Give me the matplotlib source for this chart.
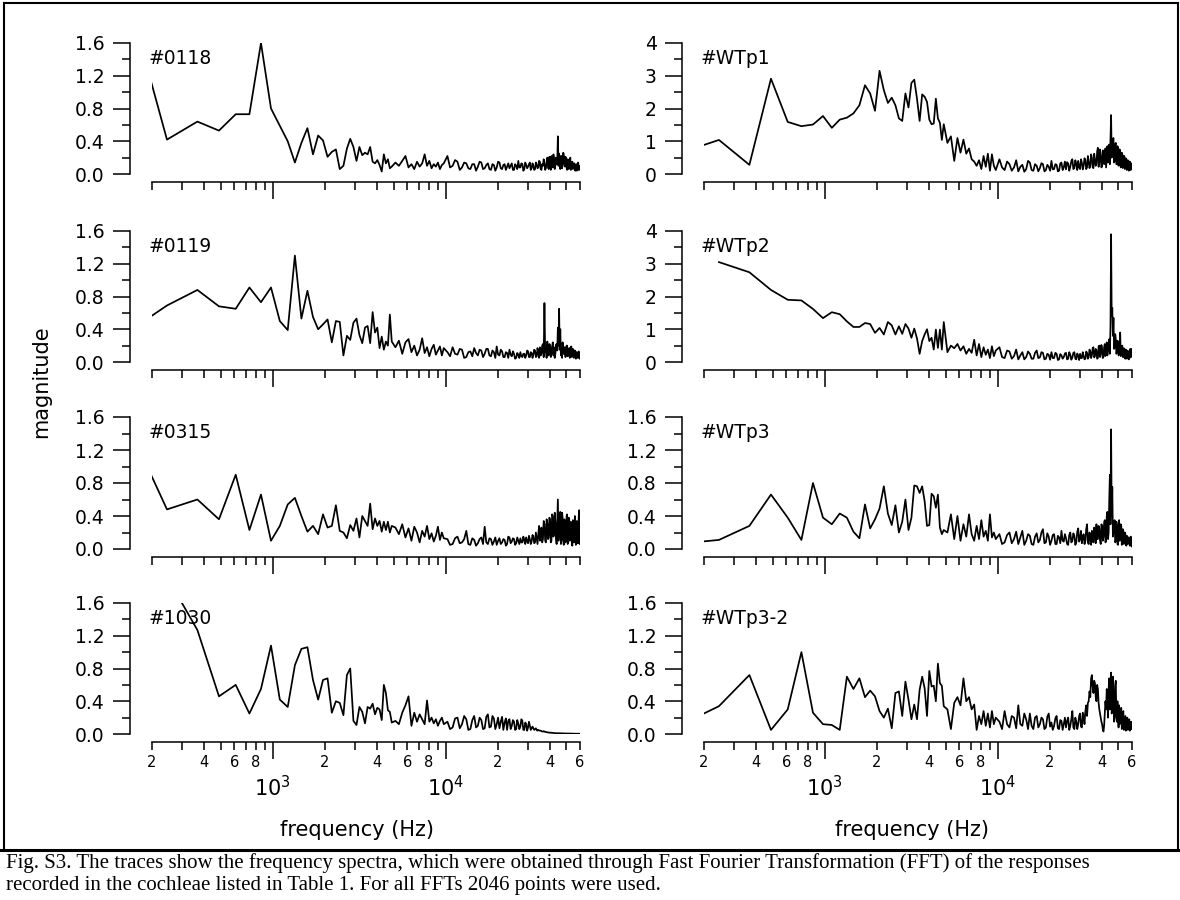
import numpy as np
import matplotlib
matplotlib.use("Agg")
import matplotlib.pyplot as plt
from matplotlib.lines import Line2D
from matplotlib.ticker import FixedLocator, FixedFormatter

plt.rcParams['font.family'] = ['DejaVu Sans']

# FFT bin spacing and the bins
BIN_HZ = 122.07
bins_low = list(range(1, 41))
bins_mid = list(range(42, 81, 2))
bins_high = list(range(84, 493, 3))
bins = np.array(bins_low + bins_mid + bins_high)
freq = bins * BIN_HZ

# magnitudes: 40 low bins, 20 mid bins, 137 high bins
s0118 = [2.74, 0.42, 0.64, 0.53, 0.73, 0.73, 1.60, 0.80, 0.59, 0.40,
         0.14, 0.38, 0.56, 0.24, 0.47, 0.41, 0.21, 0.27, 0.30, 0.06,
         0.10, 0.31, 0.43, 0.33, 0.16, 0.33, 0.23, 0.26, 0.24, 0.33,
         0.15, 0.13, 0.17, 0.11, 0.03, 0.24, 0.13, 0.18, 0.07, 0.09,
         0.14, 0.10, 0.16, 0.22, 0.08, 0.12, 0.06, 0.15, 0.09, 0.13,
         0.24, 0.10, 0.16, 0.07, 0.12, 0.09, 0.14, 0.06, 0.11, 0.13,
         0.22, 0.08, 0.10, 0.17, 0.15, 0.05, 0.08, 0.14, 0.13, 0.07,
         0.06, 0.12, 0.12, 0.04, 0.09, 0.15, 0.14, 0.06, 0.07, 0.11,
         0.13, 0.06, 0.05, 0.12, 0.11, 0.04, 0.08, 0.15, 0.14, 0.07,
         0.06, 0.11, 0.12, 0.05, 0.09, 0.13, 0.07, 0.10, 0.13, 0.05,
         0.05, 0.12, 0.10, 0.06, 0.16, 0.08, 0.08, 0.13, 0.12, 0.04,
         0.06, 0.14, 0.11, 0.07, 0.09, 0.12, 0.14, 0.05, 0.07, 0.13,
         0.10, 0.05, 0.06, 0.14, 0.12, 0.07, 0.08, 0.16, 0.15, 0.06,
         0.05, 0.12, 0.10, 0.18, 0.13, 0.05, 0.07, 0.15, 0.20, 0.08,
         0.06, 0.21, 0.14, 0.05, 0.22, 0.12, 0.08, 0.24, 0.18, 0.06,
         0.10, 0.20, 0.12, 0.15, 0.46, 0.10, 0.25, 0.14, 0.06, 0.22,
         0.22, 0.07, 0.15, 0.26, 0.24, 0.10, 0.09, 0.21, 0.19, 0.08,
         0.05, 0.18, 0.17, 0.06, 0.12, 0.16, 0.20, 0.05, 0.07, 0.14,
         0.15, 0.06, 0.10, 0.13, 0.13, 0.05, 0.04, 0.11, 0.12, 0.04,
         0.08, 0.12, 0.14, 0.05, 0.05, 0.10, 0.06]

s0119 = [0.26, 0.69, 0.88, 0.68, 0.65, 0.91, 0.73, 0.91, 0.50, 0.39,
         1.30, 0.53, 0.87, 0.55, 0.40, 0.46, 0.52, 0.24, 0.50, 0.49,
         0.08, 0.32, 0.27, 0.48, 0.53, 0.33, 0.23, 0.42, 0.44, 0.23,
         0.61, 0.36, 0.42, 0.17, 0.31, 0.15, 0.25, 0.20, 0.58, 0.25,
         0.18, 0.26, 0.10, 0.24, 0.28, 0.12, 0.20, 0.08, 0.15, 0.29,
         0.11, 0.18, 0.07, 0.16, 0.21, 0.09, 0.14, 0.19, 0.08, 0.17,
         0.12, 0.07, 0.18, 0.10, 0.09, 0.16, 0.15, 0.05, 0.06, 0.12,
         0.13, 0.07, 0.17, 0.11, 0.08, 0.15, 0.14, 0.06, 0.10, 0.16,
         0.16, 0.08, 0.07, 0.14, 0.12, 0.05, 0.19, 0.09, 0.08, 0.15,
         0.13, 0.06, 0.06, 0.12, 0.11, 0.05, 0.15, 0.09, 0.07, 0.13,
         0.10, 0.04, 0.05, 0.11, 0.09, 0.05, 0.12, 0.07, 0.06, 0.10,
         0.10, 0.05, 0.08, 0.14, 0.13, 0.06, 0.06, 0.12, 0.11, 0.05,
         0.09, 0.15, 0.14, 0.06, 0.07, 0.17, 0.12, 0.05, 0.18, 0.08,
         0.10, 0.20, 0.22, 0.06, 0.72, 0.12, 0.15, 0.05, 0.25, 0.10,
         0.08, 0.22, 0.20, 0.06, 0.12, 0.19, 0.24, 0.08, 0.18, 0.05,
         0.10, 0.21, 0.22, 0.14, 0.42, 0.20, 0.65, 0.15, 0.40, 0.08,
         0.15, 0.05, 0.24, 0.10, 0.10, 0.18, 0.18, 0.06, 0.13, 0.20,
         0.20, 0.07, 0.08, 0.16, 0.17, 0.05, 0.12, 0.18, 0.19, 0.06,
         0.07, 0.16, 0.15, 0.05, 0.10, 0.14, 0.13, 0.04, 0.06, 0.12,
         0.11, 0.05, 0.09, 0.13, 0.07, 0.04, 0.10]

s0315 = [1.85, 0.48, 0.60, 0.36, 0.90, 0.23, 0.66, 0.10, 0.28, 0.54,
         0.62, 0.40, 0.21, 0.28, 0.18, 0.42, 0.26, 0.28, 0.53, 0.22,
         0.20, 0.13, 0.29, 0.22, 0.37, 0.14, 0.40, 0.34, 0.28, 0.55,
         0.24, 0.37, 0.28, 0.34, 0.21, 0.33, 0.23, 0.33, 0.20, 0.28,
         0.26, 0.18, 0.30, 0.14, 0.25, 0.10, 0.27, 0.20, 0.08, 0.22,
         0.15, 0.28, 0.12, 0.19, 0.09, 0.16, 0.27, 0.11, 0.20, 0.13,
         0.12, 0.05, 0.06, 0.13, 0.15, 0.07, 0.08, 0.12, 0.22, 0.06,
         0.05, 0.13, 0.11, 0.04, 0.07, 0.12, 0.14, 0.06, 0.27, 0.08,
         0.06, 0.13, 0.12, 0.05, 0.09, 0.14, 0.05, 0.10, 0.13, 0.06,
         0.08, 0.12, 0.11, 0.04, 0.06, 0.15, 0.14, 0.07, 0.09, 0.13,
         0.12, 0.05, 0.07, 0.14, 0.10, 0.06, 0.13, 0.08, 0.08, 0.15,
         0.11, 0.06, 0.14, 0.09, 0.07, 0.16, 0.12, 0.06, 0.09, 0.17,
         0.15, 0.07, 0.08, 0.20, 0.13, 0.06, 0.18, 0.28, 0.10, 0.22,
         0.26, 0.08, 0.12, 0.34, 0.30, 0.10, 0.08, 0.36, 0.32, 0.12,
         0.14, 0.38, 0.35, 0.08, 0.10, 0.42, 0.40, 0.15, 0.18, 0.44,
         0.33, 0.12, 0.06, 0.35, 0.60, 0.10, 0.22, 0.40, 0.45, 0.06,
         0.10, 0.44, 0.38, 0.12, 0.05, 0.36, 0.30, 0.08, 0.15, 0.40,
         0.42, 0.06, 0.08, 0.38, 0.35, 0.10, 0.12, 0.33, 0.28, 0.05,
         0.04, 0.35, 0.32, 0.08, 0.14, 0.40, 0.25, 0.05, 0.06, 0.34,
         0.30, 0.07, 0.10, 0.38, 0.47, 0.06, 0.20]

s1030 = [2.30, 1.92, 1.27, 0.46, 0.60, 0.25, 0.55, 1.08, 0.42, 0.33,
         0.84, 1.04, 1.06, 0.66, 0.42, 0.66, 0.68, 0.26, 0.40, 0.38,
         0.23, 0.72, 0.80, 0.16, 0.11, 0.33, 0.27, 0.13, 0.33, 0.31,
         0.37, 0.24, 0.32, 0.30, 0.17, 0.60, 0.50, 0.29, 0.27, 0.14,
         0.16, 0.12, 0.26, 0.35, 0.46, 0.10, 0.26, 0.15, 0.24, 0.18,
         0.12, 0.41, 0.15, 0.20, 0.13, 0.18, 0.10, 0.16, 0.20, 0.12,
         0.15, 0.06, 0.08, 0.19, 0.20, 0.07, 0.12, 0.22, 0.18, 0.05,
         0.06, 0.17, 0.22, 0.08, 0.10, 0.20, 0.17, 0.06, 0.07, 0.21,
         0.24, 0.08, 0.09, 0.22, 0.19, 0.06, 0.12, 0.20, 0.07, 0.15,
         0.21, 0.05, 0.14, 0.19, 0.05, 0.16, 0.18, 0.06, 0.10, 0.17,
         0.15, 0.05, 0.06, 0.17, 0.13, 0.06, 0.09, 0.18, 0.16, 0.05,
         0.05, 0.14, 0.12, 0.04, 0.08, 0.15, 0.10, 0.05, 0.07, 0.09,
         0.07, 0.05, 0.06, 0.07, 0.05, 0.04, 0.05, 0.045, 0.04, 0.04,
         0.035, 0.03, 0.03, 0.035, 0.03, 0.025, 0.025, 0.022, 0.02, 0.02,
         0.018, 0.017, 0.015, 0.016, 0.015, 0.013, 0.012, 0.012, 0.012, 0.011,
         0.010, 0.010, 0.010, 0.010, 0.010, 0.009, 0.009, 0.009, 0.008, 0.008,
         0.008, 0.008, 0.008, 0.007, 0.007, 0.007, 0.007, 0.006, 0.006, 0.006,
         0.006, 0.006, 0.006, 0.005, 0.005, 0.005, 0.005, 0.005, 0.005, 0.005,
         0.005, 0.004, 0.004, 0.004, 0.004, 0.004, 0.004, 0.004, 0.004, 0.004,
         0.004, 0.003, 0.003, 0.003, 0.003, 0.003, 0.003]

sWTp1 = [0.51, 1.04, 0.28, 2.91, 1.59, 1.46, 1.51, 1.77, 1.41, 1.66,
         1.72, 1.85, 2.10, 2.71, 2.46, 1.93, 3.15, 2.56, 2.17, 2.33,
         2.10, 1.70, 1.62, 2.46, 2.03, 2.78, 2.88, 2.30, 1.62, 2.43,
         2.36, 2.20, 1.66, 1.52, 1.54, 2.30, 1.70, 1.56, 1.04, 1.52,
         0.95, 1.15, 0.40, 1.10, 0.65, 1.05, 0.62, 0.78, 0.45, 0.38,
         0.25, 0.42, 0.15, 0.55, 0.22, 0.62, 0.10, 0.60, 0.25, 0.12,
         0.45, 0.20, 0.12, 0.38, 0.30, 0.10, 0.20, 0.42, 0.08, 0.22,
         0.28, 0.07, 0.15, 0.40, 0.35, 0.12, 0.10, 0.30, 0.25, 0.08,
         0.18, 0.33, 0.30, 0.08, 0.12, 0.28, 0.22, 0.10, 0.40, 0.14,
         0.15, 0.30, 0.28, 0.08, 0.10, 0.32, 0.35, 0.12, 0.20, 0.38,
         0.14, 0.36, 0.32, 0.10, 0.22, 0.40, 0.45, 0.15, 0.18, 0.42,
         0.30, 0.12, 0.40, 0.20, 0.15, 0.45, 0.35, 0.14, 0.25, 0.48,
         0.42, 0.15, 0.20, 0.55, 0.38, 0.18, 0.28, 0.60, 0.50, 0.20,
         0.18, 0.62, 0.45, 0.25, 0.30, 0.70, 0.80, 0.22, 0.35, 0.75,
         0.55, 0.20, 0.25, 0.72, 0.70, 0.30, 0.40, 0.78, 0.20, 0.55,
         0.85, 0.35, 0.45, 0.90, 0.30, 1.10, 1.80, 0.50, 0.60, 1.05,
         1.10, 0.35, 0.40, 0.90, 0.95, 0.30, 0.30, 0.85, 0.80, 0.25,
         0.50, 0.75, 0.70, 0.20, 0.25, 0.65, 0.60, 0.18, 0.40, 0.55,
         0.55, 0.15, 0.20, 0.48, 0.45, 0.12, 0.30, 0.42, 0.40, 0.10,
         0.15, 0.38, 0.35, 0.12, 0.25, 0.32, 0.30]

sWTp2 = [np.nan, 3.05, 2.74, 2.20, 1.90, 1.88, 1.62, 1.34, 1.52, 1.46,
         1.24, 1.07, 1.07, 1.19, 1.16, 0.89, 1.04, 0.84, 1.22, 1.12,
         0.84, 1.09, 0.86, 1.16, 1.02, 0.74, 1.02, 0.72, 0.25, 0.64,
         0.84, 1.00, 0.64, 0.74, 0.38, 0.99, 0.43, 0.99, 0.38, 1.22,
         0.30, 0.50, 0.42, 0.55, 0.35, 0.48, 0.25, 0.40, 0.28, 0.68,
         0.20, 0.55, 0.15, 0.45, 0.22, 0.38, 0.12, 0.48, 0.18, 0.35,
         0.45, 0.15, 0.12, 0.35, 0.32, 0.10, 0.18, 0.38, 0.08, 0.20,
         0.30, 0.08, 0.15, 0.32, 0.25, 0.10, 0.10, 0.28, 0.35, 0.12,
         0.14, 0.30, 0.28, 0.08, 0.10, 0.25, 0.22, 0.07, 0.30, 0.12,
         0.12, 0.28, 0.25, 0.06, 0.08, 0.24, 0.20, 0.10, 0.15, 0.26,
         0.28, 0.08, 0.10, 0.30, 0.22, 0.07, 0.14, 0.28, 0.30, 0.10,
         0.08, 0.26, 0.20, 0.06, 0.25, 0.12, 0.12, 0.30, 0.18, 0.08,
         0.10, 0.32, 0.28, 0.10, 0.15, 0.38, 0.32, 0.12, 0.20, 0.42,
         0.45, 0.14, 0.18, 0.40, 0.35, 0.10, 0.12, 0.48, 0.50, 0.15,
         0.25, 0.52, 0.40, 0.12, 0.15, 0.45, 0.55, 0.18, 0.30, 0.60,
         0.20, 0.35, 0.45, 0.70, 0.25, 1.10, 3.90, 1.40, 1.65, 0.80,
         1.35, 0.40, 0.45, 0.85, 0.70, 0.25, 0.30, 0.65, 0.60, 0.20,
         0.25, 0.55, 0.90, 0.18, 0.20, 0.48, 0.50, 0.15, 0.15, 0.42,
         0.40, 0.12, 0.10, 0.38, 0.35, 0.10, 0.20, 0.34, 0.30, 0.08,
         0.12, 0.36, 0.40, 0.14, 0.25, 0.40, 0.35]

sWTp3 = [0.05, 0.11, 0.28, 0.66, 0.38, 0.11, 0.80, 0.38, 0.30, 0.43,
         0.38, 0.21, 0.13, 0.54, 0.25, 0.36, 0.49, 0.76, 0.43, 0.29,
         0.53, 0.20, 0.33, 0.60, 0.23, 0.38, 0.77, 0.76, 0.68, 0.76,
         0.58, 0.28, 0.29, 0.67, 0.64, 0.50, 0.66, 0.26, 0.18, 0.23,
         0.20, 0.42, 0.12, 0.40, 0.10, 0.30, 0.15, 0.42, 0.18, 0.10,
         0.28, 0.12, 0.35, 0.15, 0.22, 0.10, 0.42, 0.14, 0.20, 0.12,
         0.18, 0.06, 0.08, 0.17, 0.20, 0.07, 0.12, 0.21, 0.06, 0.14,
         0.22, 0.05, 0.10, 0.18, 0.16, 0.06, 0.05, 0.15, 0.19, 0.08,
         0.11, 0.20, 0.24, 0.07, 0.08, 0.19, 0.15, 0.05, 0.10, 0.17,
         0.18, 0.06, 0.06, 0.16, 0.14, 0.07, 0.22, 0.10, 0.09, 0.18,
         0.13, 0.06, 0.05, 0.17, 0.20, 0.08, 0.10, 0.19, 0.16, 0.05,
         0.08, 0.21, 0.25, 0.09, 0.12, 0.22, 0.07, 0.15, 0.18, 0.06,
         0.10, 0.24, 0.30, 0.08, 0.06, 0.20, 0.15, 0.05, 0.22, 0.10,
         0.08, 0.26, 0.18, 0.07, 0.30, 0.12, 0.12, 0.28, 0.25, 0.10,
         0.06, 0.30, 0.28, 0.10, 0.15, 0.32, 0.35, 0.08, 0.10, 0.40,
         0.45, 0.12, 0.20, 0.60, 0.90, 0.30, 1.45, 0.40, 0.75, 0.15,
         0.20, 0.30, 0.35, 0.08, 0.10, 0.33, 0.30, 0.06, 0.05, 0.25,
         0.35, 0.10, 0.15, 0.30, 0.28, 0.05, 0.08, 0.24, 0.22, 0.06,
         0.12, 0.20, 0.18, 0.05, 0.04, 0.16, 0.15, 0.06, 0.10, 0.14,
         0.12, 0.04, 0.05, 0.15, 0.14, 0.03, 0.06]

sWTp3_2 = [0.03, 0.34, 0.72, 0.05, 0.30, 1.00, 0.26, 0.12, 0.11, 0.05,
           0.70, 0.55, 0.68, 0.45, 0.53, 0.46, 0.28, 0.20, 0.31, 0.07,
           0.50, 0.52, 0.22, 0.64, 0.42, 0.18, 0.36, 0.18, 0.54, 0.70,
           0.56, 0.22, 0.77, 0.58, 0.59, 0.40, 0.86, 0.62, 0.59, 0.34,
           0.30, 0.06, 0.38, 0.45, 0.35, 0.68, 0.40, 0.45, 0.30, 0.36,
           0.05, 0.22, 0.12, 0.28, 0.10, 0.25, 0.08, 0.28, 0.12, 0.20,
           0.15, 0.06, 0.28, 0.12, 0.08, 0.22, 0.20, 0.07, 0.35, 0.12,
           0.10, 0.25, 0.18, 0.06, 0.25, 0.10, 0.06, 0.20, 0.22, 0.08,
           0.12, 0.20, 0.18, 0.06, 0.08, 0.21, 0.25, 0.09, 0.14, 0.05,
           0.10, 0.19, 0.22, 0.07, 0.06, 0.17, 0.16, 0.05, 0.12, 0.20,
           0.08, 0.16, 0.20, 0.05, 0.10, 0.18, 0.28, 0.08, 0.06, 0.20,
           0.15, 0.06, 0.12, 0.22, 0.25, 0.09, 0.08, 0.26, 0.22, 0.12,
           0.28, 0.35, 0.22, 0.38, 0.40, 0.52, 0.45, 0.68, 0.72, 0.58,
           0.50, 0.65, 0.62, 0.45, 0.40, 0.60, 0.55, 0.38, 0.30, 0.25,
           0.20, 0.15, 0.12, 0.06, 0.03, 0.10, 0.25, 0.40, 0.30, 0.55,
           0.45, 0.20, 0.55, 0.68, 0.30, 0.50, 0.75, 0.25, 0.35, 0.70,
           0.50, 0.15, 0.20, 0.60, 0.65, 0.22, 0.15, 0.40, 0.20, 0.08,
           0.35, 0.12, 0.15, 0.30, 0.32, 0.06, 0.08, 0.26, 0.28, 0.05,
           0.10, 0.20, 0.22, 0.04, 0.06, 0.18, 0.20, 0.05, 0.12, 0.16,
           0.18, 0.04, 0.05, 0.14, 0.15, 0.06, 0.10]

left_names = ['#0118', '#0119', '#0315', '#1030']
left_data = [s0118, s0119, s0315, s1030]
right_names = ['#WTp1', '#WTp2', '#WTp3', '#WTp3-2']
right_data = [sWTp1, sWTp2, sWTp3, sWTp3_2]
right_ymax = [4, 4, 1.6, 1.6]

for name, vals in zip(left_names + right_names, left_data + right_data):
    if len(vals) != len(freq):
        raise ValueError(f"{name}: {len(vals)} values for {len(freq)} bins")

W, H = 1180, 900
fig = plt.figure(figsize=(W / 100, H / 100), dpi=100)

rows = [(43, 174), (231, 362), (417, 549), (603, 734)]
cols = [(152, 580), (704, 1132)]

minor_locs = [200, 300, 400, 500, 600, 700, 800, 900,
              2000, 3000, 4000, 5000, 6000, 7000, 8000, 9000,
              20000, 30000, 40000, 50000, 60000]
minor_labels = ['2', '', '4', '', '6', '', '8', '',
                '2', '', '4', '', '6', '', '8', '',
                '2', '', '4', '', '6']


def make_panel(col, row, name, values, ymax, bottom_row):
    x0, x1 = cols[col]
    top, bot = rows[row]
    ax = fig.add_axes([x0 / W, 1 - bot / H, (x1 - x0) / W, (bot - top) / H])
    ax.patch.set_alpha(0)
    ax.plot(freq, values, color='black', lw=1.25)
    ax.set_xscale('log')
    ax.set_xlim(200, 60000)
    ax.set_ylim(0, ymax)
    for s in ('top', 'right'):
        ax.spines[s].set_visible(False)
    ax.spines['left'].set_position(('outward', 15.8))
    ax.spines['bottom'].set_position(('outward', 5.8))
    for s in ('left', 'bottom'):
        ax.spines[s].set_linewidth(1.1)

    ax.xaxis.set_major_locator(FixedLocator([1000, 10000]))
    ax.xaxis.set_minor_locator(FixedLocator(minor_locs))
    if bottom_row:
        ax.xaxis.set_major_formatter(FixedFormatter([r'$\mathregular{10^3}$', r'$\mathregular{10^4}$']))
        ax.xaxis.set_minor_formatter(FixedFormatter(minor_labels))
    else:
        ax.xaxis.set_major_formatter(FixedFormatter(['', '']))
        ax.xaxis.set_minor_formatter(FixedFormatter([''] * len(minor_locs)))
    ax.tick_params(axis='x', which='major', length=12.2, width=1.1, direction='out',
                   labelsize=15, pad=11.5)
    ax.tick_params(axis='x', which='minor', length=5.8, width=1.1, direction='out',
                   labelsize=10.5, pad=3.5)

    if ymax == 4:
        ax.yaxis.set_major_locator(FixedLocator([0, 1, 2, 3, 4]))
        ax.yaxis.set_major_formatter(FixedFormatter(['0', '1', '2', '3', '4']))
        ax.yaxis.set_minor_locator(FixedLocator([0.5, 1.5, 2.5, 3.5]))
    else:
        ax.yaxis.set_major_locator(FixedLocator([0, 0.4, 0.8, 1.2, 1.6]))
        ax.yaxis.set_major_formatter(FixedFormatter(['0.0', '0.4', '0.8', '1.2', '1.6']))
        ax.yaxis.set_minor_locator(FixedLocator([0.2, 0.6, 1.0, 1.4]))
    ax.tick_params(axis='y', which='major', length=12.2, width=1.1, direction='out',
                   labelsize=13.5, pad=6)
    ax.tick_params(axis='y', which='minor', length=6, width=1.1, direction='out')

    ax.text(-0.008, 0.885, name, transform=ax.transAxes, fontsize=13.5,
            ha='left', va='center')
    return ax


for i in range(4):
    make_panel(0, i, left_names[i], left_data[i], 1.6, i == 3)
    make_panel(1, i, right_names[i], right_data[i], right_ymax[i], i == 3)

fig.text(357 / W, 1 - 830 / H, 'frequency (Hz)', fontsize=15, ha='center', va='center')
fig.text(912 / W, 1 - 830 / H, 'frequency (Hz)', fontsize=15, ha='center', va='center')
fig.text(41 / W, 1 - 382 / H, 'magnitude', fontsize=15, rotation=90,
         ha='center', va='center')


def fig_line(xs, ys, lw):
    fig.add_artist(Line2D([x / W for x in xs], [1 - y / H for y in ys],
                          transform=fig.transFigure, color='black', lw=lw))


fig_line([4, 4], [3, 850], 1.5)
fig_line([1178, 1178], [3, 850], 1.5)
fig_line([4, 1178], [3, 3], 1.5)
fig_line([0, 1180], [850, 850], 2.2)

caption = ['Fig. S3. The traces show the frequency spectra, which were obtained through '
           'Fast Fourier Transformation (FFT) of the responses',
           'recorded in the cochleae listed in Table 1. For all FFTs 2046 points were used.']
fig.text(6 / W, 1 - 868 / H, caption[0], fontsize=15, family='Liberation Serif',
         ha='left', va='baseline')
fig.text(6 / W, 1 - 890 / H, caption[1], fontsize=15, family='Liberation Serif',
         ha='left', va='baseline')

fig.savefig('out.png', dpi=100)
